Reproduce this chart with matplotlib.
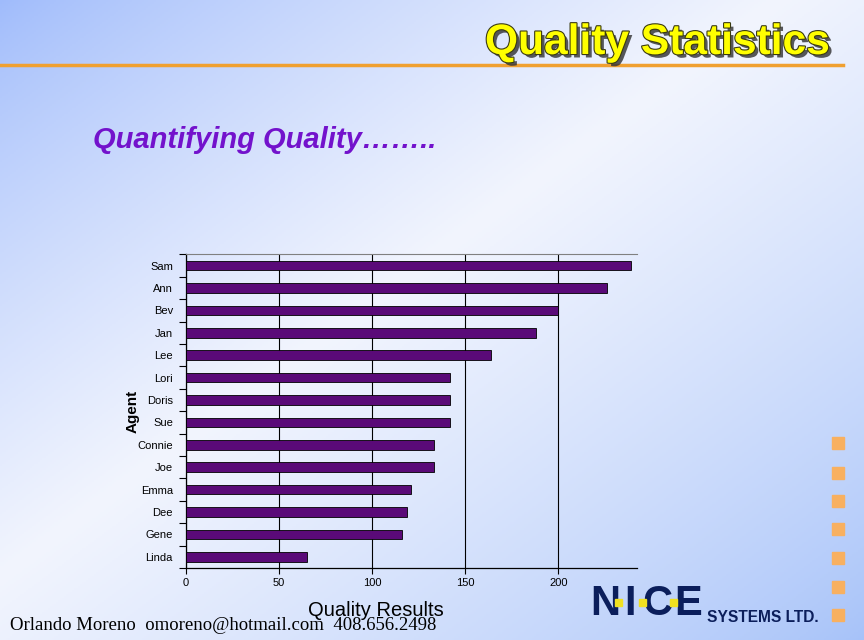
import numpy as np
import matplotlib
matplotlib.use("Agg")
import matplotlib.pyplot as plt
import matplotlib.patheffects as pe
from matplotlib.colors import to_rgb

agents = ["Sam", "Ann", "Bev", "Jan", "Lee", "Lori", "Doris", "Sue",
          "Connie", "Joe", "Emma", "Dee", "Gene", "Linda"]
quality = [239, 226, 200, 188, 164, 142, 142, 142, 133, 133, 121, 119, 116, 65]
xticks = [0, 50, 100, 150, 200]

W, H = 864, 640
fig = plt.figure(figsize=(W / 100, H / 100), dpi=100)

def fx(x):
    return x / W

def fy(y):
    return 1 - y / H

# background gradient
bg = fig.add_axes([0, 0, 1, 1], zorder=-10)
xx, yy = np.meshgrid(np.linspace(0, 1, 432), np.linspace(0, 1, 320))
t = xx + yy
wpos = 0.9
frac = np.where(t < wpos, t / wpos, (2 - t) / (2 - wpos))
frac = np.clip(frac, 0, 1) ** 0.8
c_blue_tl = np.array(to_rgb("#9fbbfb"))
c_blue_br = np.array(to_rgb("#a6c2f9"))
c_white = np.array(to_rgb("#f2f5fe"))
blue = np.where((t < wpos)[..., None], c_blue_tl, c_blue_br)
img = blue * (1 - frac[..., None]) + c_white * frac[..., None]
bg.imshow(img, extent=[0, 1, 0, 1], aspect="auto", origin="upper")
bg.axis("off")

# title
fig.text(fx(485), fy(43), "Quality Statistics", fontsize=30.6, fontweight="bold",
         family="Liberation Sans", color="#ffff00", ha="left", va="center",
         path_effects=[pe.withSimplePatchShadow(offset=(2.5, -2.5), shadow_rgbFace="#303030", alpha=0.8),
                       pe.withStroke(linewidth=1.6, foreground="#3a3a10")])
fig.add_artist(plt.Line2D([0, fx(843)], [fy(65), fy(65)], color="#f0a030", lw=2.5,
                          transform=fig.transFigure))

fig.text(fx(93), fy(140), "Quantifying Quality……..", fontsize=21, fontweight="bold",
         fontstyle="italic", family="Liberation Sans", color="#7312cc", ha="left", va="center")

# chart
L, R, T, B = 185.5, 636.6, 254.3, 568.0
ax = fig.add_axes([fx(L), fy(B), fx(R) - fx(L), fy(T) - fy(B)])
ax.set_facecolor("none")
ypos = np.arange(len(agents))
ax.barh(ypos, quality, height=0.43, color="#5a0a78", edgecolor="black", linewidth=0.6, zorder=3)
ax.set_ylim(len(agents) - 0.5, -0.5)
ax.set_xlim(0, 241.9)
ax.set_xticks(xticks)
ax.set_xticklabels([str(v) for v in xticks], fontsize=8, family="Liberation Sans")
ax.set_yticks(ypos)
ax.set_yticklabels(agents, fontsize=8, family="Liberation Sans")
ax.set_yticks(np.arange(-0.5, len(agents), 1), minor=True)
ax.tick_params(axis="y", which="major", length=0, pad=9)
ax.tick_params(axis="y", which="minor", length=5, width=0.8, direction="out")
ax.tick_params(axis="x", which="major", length=4, width=0.8, direction="out", pad=3)
ax.grid(axis="x", color="black", linewidth=0.8, zorder=0)
ax.spines["right"].set_visible(False)
ax.spines["top"].set_color("#808080")
ax.spines["left"].set_linewidth(0.9)
ax.spines["bottom"].set_linewidth(0.9)

fig.text(fx(133), fy(411), "Agent", fontsize=11, fontweight="bold", family="Liberation Sans",
         rotation=90, ha="center", va="center", color="black")
fig.text(fx(376), fy(610), "Quality Results", fontsize=14.5, family="Liberation Sans",
         ha="center", va="center", color="black")

fig.text(fx(10), fy(626), "Orlando Moreno  omoreno@hotmail.com  408.656.2498", fontsize=13.5,
         family="Liberation Serif", ha="left", va="center", color="black")

# NICE logo
navy = "#0b1e5b"
for ch, x in zip("NICE", [605, 630, 657, 688]):
    fig.text(fx(x), fy(604), ch, fontsize=30, fontweight="bold", family="Liberation Sans",
             ha="center", va="center", color=navy)
for x in [618, 642, 673]:
    fig.add_artist(plt.Rectangle((fx(x - 3.5), fy(605.5)), fx(7), 7 / H, color="#f0e020",
                                 transform=fig.transFigure, zorder=5))
fig.text(fx(707), fy(617), "SYSTEMS LTD.", fontsize=11.2, fontweight="bold", family="Liberation Sans",
         ha="left", va="center", color=navy)

# orange squares
for y in [443, 473, 501, 529, 558, 587, 615]:
    fig.add_artist(plt.Rectangle((fx(832), fy(y + 6)), fx(12), 12 / H, color="#f8b060",
                                 transform=fig.transFigure, zorder=5))

fig.savefig("out.png", dpi=100)
